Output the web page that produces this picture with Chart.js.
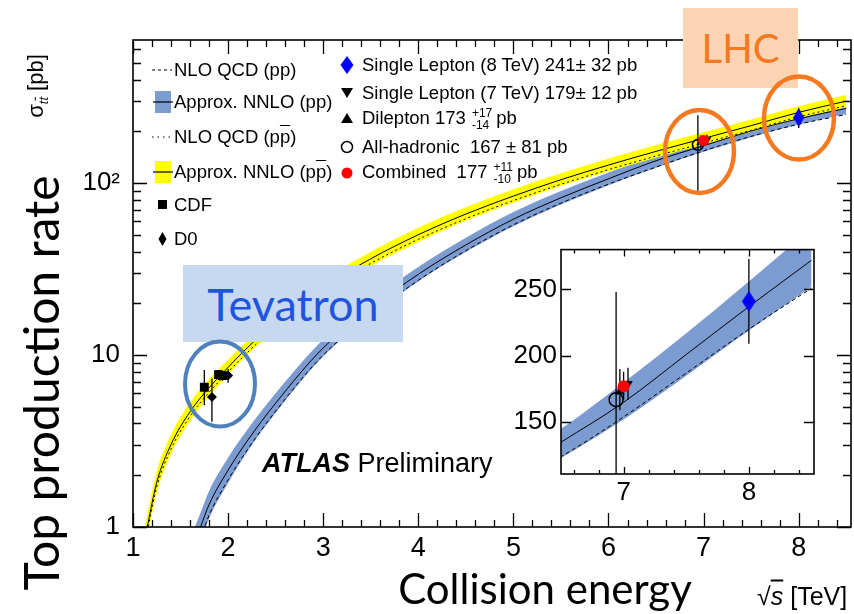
<!DOCTYPE html>
<html>
<head>
<meta charset="utf-8">
<script src="https://cdn.jsdelivr.net/npm/chart.js@4.4.1/dist/chart.umd.min.js"></script>
<style>
html, body { margin: 0; padding: 0; background: #fff; }
#stage { position: relative; width: 854px; height: 614px; overflow: hidden; background: #fff;
         font-family: "Liberation Sans", Arial, Helvetica, sans-serif; color: #000; }
canvas { position: absolute; }
#main { left: 0; top: 0; }
#inset { left: 490px; top: 230px; }
.abs { position: absolute; white-space: nowrap; }
.mid { transform: translateY(-50%); }
.ov { text-decoration: overline; }
.leg { font-size: 18.5px; line-height: 22px; }
.frac { display: inline-block; vertical-align: middle; font-size: 12px; line-height: 12px; text-align: left; margin: 0 4px 0 6px; }
.ytitle { font-family: Lato, "Open Sans", sans-serif; font-size: 48px; left: 40px; top: 383px;
          transform: translate(-50%, -50%) rotate(-90deg); }
.yunit { font-size: 22px; left: 37px; top: 86px; transform: translate(-50%, -50%) rotate(-90deg); }
.yunit sub { font-size: 13px; font-style: italic; }
.xtitle { font-family: Lato, "Open Sans", sans-serif; font-size: 42px; left: 545px; top: 588px; transform: translate(-50%, -50%); }
.xunit { font-size: 25px; left: 757px; top: 596px; transform: translateY(-50%); }
.atlas { font-size: 27px; left: 262px; top: 463px; transform: translateY(-50%); }
.box { position: absolute; display: flex; align-items: center; justify-content: center;
       font-family: Lato, "Open Sans", sans-serif; }
#tev { left: 183px; top: 265px; width: 220px; height: 77px; background: #c6d9f1; color: #1f55dd; font-size: 45px; }
#lhc { left: 683px; top: 8px; width: 115px; height: 80px; background: #fbd4b4; color: #f47920; font-size: 40px; }
svg { position: absolute; left: 0; top: 0; }
</style>
</head>
<body>
<div id="stage">
  <canvas id="main" width="858" height="614"></canvas>
  <canvas id="inset" width="340" height="290"></canvas>

  <svg width="854" height="614" viewBox="0 0 854 614">
    <!-- legend symbols, left column -->
    <line x1="152" y1="70" x2="172" y2="70" stroke="#000" stroke-width="1.2" stroke-dasharray="3,3"/>
    <rect x="155" y="91" width="16" height="22" fill="#7b9bd1"/>
    <line x1="153" y1="102" x2="173" y2="102" stroke="#000" stroke-width="1.2"/>
    <line x1="152" y1="137" x2="172" y2="137" stroke="#000" stroke-width="1.2" stroke-dasharray="1.5,4"/>
    <rect x="155" y="161" width="16" height="22" fill="#ffff00"/>
    <line x1="153" y1="172" x2="173" y2="172" stroke="#000" stroke-width="1.2"/>
    <rect x="158" y="200" width="9" height="9" fill="#000"/>
    <polygon points="162.5,232 166.5,239 162.5,246 158.5,239" fill="#000"/>
    <!-- legend symbols, right column -->
    <polygon points="347,56 353.5,65 347,74 340.5,65" fill="#0000ff"/>
    <polygon points="341,88 353,88 347,98" fill="#000"/>
    <polygon points="341,123 353,123 347,113" fill="#000"/>
    <circle cx="347" cy="147" r="5.5" fill="none" stroke="#000" stroke-width="1.5"/>
    <circle cx="347" cy="173" r="5.5" fill="#ff0000"/>
  </svg>

  <div class="abs leg mid" style="left:174px; top:70px;">NLO QCD (pp)</div>
  <div class="abs leg mid" style="left:174px; top:102px;">Approx. NNLO (pp)</div>
  <div class="abs leg mid" style="left:174px; top:137px;">NLO QCD (p<span class="ov">p</span>)</div>
  <div class="abs leg mid" style="left:174px; top:172px;">Approx. NNLO (p<span class="ov">p</span>)</div>
  <div class="abs leg mid" style="left:174px; top:205px;">CDF</div>
  <div class="abs leg mid" style="left:174px; top:239px;">D0</div>

  <div class="abs leg mid" style="left:362px; top:65px;">Single Lepton (8 TeV) 241&plusmn; 32 pb</div>
  <div class="abs leg mid" style="left:362px; top:93px;">Single Lepton (7 TeV) 179&plusmn; 12 pb</div>
  <div class="abs leg mid" style="left:362px; top:119px;">Dilepton 173<span class="frac">+17<br>-14</span>pb</div>
  <div class="abs leg mid" style="left:362px; top:147px;">All-hadronic&nbsp; 167 &plusmn; 81 pb</div>
  <div class="abs leg mid" style="left:362px; top:173px;">Combined&nbsp; 177<span class="frac">+11<br>-10</span>pb</div>

  <div class="abs atlas"><b><i>ATLAS</i></b> Preliminary</div>

  <div class="abs ytitle">Top production rate</div>
  <div class="abs yunit">&sigma;<sub>t<span class="ov">t</span></sub> [pb]</div>
  <div class="abs xtitle">Collision energy</div>
  <div class="abs xunit">&radic;<span class="ov"><i>s</i></span> [TeV]</div>

  <div class="box" id="tev">Tevatron</div>
  <div class="box" id="lhc">LHC</div>

  <svg width="854" height="614" viewBox="0 0 854 614">
    <ellipse cx="220" cy="384" rx="35" ry="42.5" fill="none" stroke="#4f81bd" stroke-width="4"/>
    <ellipse cx="699.5" cy="151.5" rx="34.5" ry="41.5" fill="none" stroke="#f47920" stroke-width="4.5"/>
    <ellipse cx="799" cy="118" rx="35" ry="41.5" fill="none" stroke="#f47920" stroke-width="4.5"/>
  </svg>
</div>

<script>
// Approximate NNLO / NLO ttbar cross sections (pb) versus collision energy (TeV)
const ppbarEnergy   = [1.1, 1.15, 1.25, 1.4, 1.6, 1.8, 1.96, 2.2, 2.5, 3.0, 3.5, 4.0, 4.5, 5.0, 5.5, 6.0, 6.5, 7.0, 7.5, 8.0, 8.5];
const ppbarNNLO     = [0.72, 1.0, 1.82, 3.02, 4.68, 6.46, 8.04, 11.0, 15.5, 24.8, 36.3, 50.1, 66.1, 84.1, 104.7, 127.4, 153, 182, 216, 258, 300];
const ppbarNNLOHigh = [0.84, 1.17, 2.11, 3.44, 5.29, 7.24, 8.92, 12.1, 17.05, 27.3, 39.9, 55.1, 72.4, 92.1, 114.1, 138.9, 166.8, 197.5, 234.4, 280, 325.5];
const ppbarNNLOLow  = [0.615, 0.855, 1.57, 2.65, 4.14, 5.77, 7.24, 10.0, 14.1, 22.5, 33.0, 45.5, 60.4, 76.8, 96.1, 116.9, 140.4, 167.7, 199, 237.8, 276.5];
const ppbarNLO      = [0.68, 0.94, 1.71, 2.84, 4.4, 6.07, 7.56, 10.3, 14.6, 23.3, 34.1, 47.1, 62.1, 79.1, 98.4, 119.8, 143.8, 171, 203, 243, 282];

const ppEnergy   = [1.6, 1.71, 1.8, 2.0, 2.2, 2.5, 3.0, 3.5, 4.0, 4.5, 5.0, 5.5, 6.0, 6.5, 7.0, 7.5, 8.0, 8.5];
const ppNNLO     = [0.70, 1.0, 1.35, 2.14, 3.16, 5.25, 11.0, 18.6, 29.5, 43.7, 61.7, 82.2, 106, 135, 165, 201, 237, 272];
const ppNNLOHigh = [0.85, 1.21, 1.62, 2.53, 3.67, 5.99, 12.3, 20.6, 32.5, 48.1, 67.9, 90.0, 115.5, 145, 180, 217, 256, 296];
const ppNNLOLow  = [0.57, 0.82, 1.12, 1.8, 2.72, 4.6, 9.8, 16.8, 26.8, 39.7, 56.1, 75.0, 97.2, 123, 152, 185, 219, 252];
const ppNLO      = [0.6, 0.86, 1.17, 1.88, 2.8, 4.72, 10.0, 17.1, 27.2, 40.5, 57.2, 76.5, 98.6, 124, 154, 187, 220, 251];

// Tevatron measurements
const cdfEnergy = [1.75, 1.90, 1.94];
const cdfXsec   = [6.5, 7.7, 7.6];
const cdfPlus   = [1.7, 0.5, 0.5];
const cdfMinus  = [1.4, 0.5, 0.5];
const d0Energy  = [1.83, 2.0];
const d0Xsec    = [5.7, 7.6];
const d0Plus    = [1.6, 0.7];
const d0Minus   = [1.6, 0.7];

// ATLAS measurements
const single8Energy = [8.0],   single8Xsec = [241], single8Plus = [32], single8Minus = [32];
const single7Energy = [7.035], single7Xsec = [179], single7Plus = [12], single7Minus = [12];
const dilepEnergy   = [6.97],  dilepXsec   = [173], dilepPlus   = [17], dilepMinus   = [14];
const hadEnergy     = [6.94],  hadXsec     = [167], hadPlus     = [81], hadMinus     = [81];
const combEnergy    = [7.0],   combXsec    = [177], combPlus    = [11], combMinus    = [10];

// Axis tick values
const mainXTicks  = [1, 2, 3, 4, 5, 6, 7, 8];
const mainYTicks  = [1, 10, 100];
const insetXTicks = [7, 8];
const insetYTicks = [150, 200, 250];

const FONT = '"Liberation Sans", Arial, Helvetica, sans-serif';
const BLUE = '#7b9bd1';
const YELLOW = '#ffff00';
Chart.defaults.font.family = FONT;
Chart.defaults.color = '#000';

const pts = (xs, ys) => xs.map((x, i) => ({ x, y: ys[i] }));

function curve(xs, ys, extra) {
  return Object.assign({
    type: 'line', data: pts(xs, ys), borderColor: '#000', borderWidth: 1,
    pointRadius: 0, fill: false, cubicInterpolationMode: 'monotone'
  }, extra);
}
function bandEdge(xs, ys, extra) {
  return Object.assign({
    type: 'line', data: pts(xs, ys), borderColor: 'rgba(0,0,0,0)', borderWidth: 0,
    pointRadius: 0, cubicInterpolationMode: 'monotone', fill: false
  }, extra);
}
function marker(xs, ys, plus, minus, style) {
  return Object.assign({
    type: 'scatter', data: pts(xs, ys), errPlus: plus, errMinus: minus,
    borderColor: '#000', backgroundColor: '#000', borderWidth: 0
  }, style);
}
function diamondSprite(w, h, color) {
  const c = document.createElement('canvas');
  c.width = w; c.height = h;
  const g = c.getContext('2d');
  g.fillStyle = color;
  g.beginPath();
  g.moveTo(w / 2, 0); g.lineTo(w, h / 2); g.lineTo(w / 2, h); g.lineTo(0, h / 2);
  g.closePath(); g.fill();
  return c;
}

// Vertical error bars, drawn right before each measurement dataset
const errorBars = {
  id: 'errorBars',
  beforeDatasetDraw(chart, args) {
    const ds = chart.data.datasets[args.index];
    if (!ds.errPlus) return;
    const { ctx, chartArea: a, scales: { x, y } } = chart;
    ctx.save();
    ctx.beginPath();
    ctx.rect(a.left, a.top, a.right - a.left, a.bottom - a.top);
    ctx.clip();
    ctx.strokeStyle = '#000';
    ctx.lineWidth = 1.3;
    ctx.beginPath();
    ds.data.forEach((p, i) => {
      const px = x.getPixelForValue(p.x);
      ctx.moveTo(px, y.getPixelForValue(p.y + ds.errPlus[i]));
      ctx.lineTo(px, y.getPixelForValue(p.y - ds.errMinus[i]));
    });
    ctx.stroke();
    ctx.restore();
  }
};

// Closed frame with inward ticks on all four sides
const frameTicks = {
  id: 'frameTicks',
  afterDraw(chart, args, o) {
    const { ctx, chartArea: a, scales: { x, y } } = chart;
    ctx.save();
    ctx.strokeStyle = '#000';
    ctx.lineWidth = o.lineWidth;
    ctx.beginPath();
    const vtick = (v, len) => {
      const px = Math.round(x.getPixelForValue(v)) + 0.5;
      ctx.moveTo(px, a.bottom); ctx.lineTo(px, a.bottom - len);
      ctx.moveTo(px, a.top); ctx.lineTo(px, a.top + len);
    };
    const htick = (v, len) => {
      const py = Math.round(y.getPixelForValue(v)) + 0.5;
      ctx.moveTo(a.left, py); ctx.lineTo(a.left + len, py);
      ctx.moveTo(a.right, py); ctx.lineTo(a.right - len, py);
    };
    o.xMajor.forEach(v => vtick(v, o.xMajorLen));
    o.xMinor.forEach(v => vtick(v, o.xMinorLen));
    o.yMajor.forEach(v => htick(v, o.yMajorLen));
    o.yMinor.forEach(v => htick(v, o.yMinorLen));
    ctx.stroke();
    ctx.lineWidth = o.frameWidth;
    ctx.strokeRect(a.left, a.top, a.right - a.left, a.bottom - a.top);
    ctx.restore();
  }
};

function minorLinear(from, to, step, skip) {
  const out = [];
  for (let v = from; v <= to + 1e-9; v += step) {
    const r = Math.round(v * 10) / 10;
    if (!skip.includes(r)) out.push(r);
  }
  return out;
}
function minorLog(maxVal) {
  const out = [];
  for (const d of [1, 10, 100]) for (let m = 2; m <= 9; m++) if (m * d <= maxVal) out.push(m * d);
  return out;
}

const mainDatasets = [
  // measurements (drawn on top)
  marker(combEnergy, combXsec, combPlus, combMinus, { pointStyle: 'circle', pointRadius: 5.5, backgroundColor: '#ff0000', borderColor: '#ff0000', order: 0 }),
  marker(single8Energy, single8Xsec, single8Plus, single8Minus, { pointStyle: diamondSprite(11, 19, '#0000ff'), pointRadius: 6, order: 0 }),
  marker(single7Energy, single7Xsec, single7Plus, single7Minus, { pointStyle: 'triangle', rotation: 180, pointRadius: 5, order: 1 }),
  marker(dilepEnergy, dilepXsec, dilepPlus, dilepMinus, { pointStyle: 'triangle', pointRadius: 5, order: 2 }),
  marker(hadEnergy, hadXsec, hadPlus, hadMinus, { pointStyle: 'circle', pointRadius: 5.5, backgroundColor: 'rgba(0,0,0,0)', borderWidth: 1.5, order: 3 }),
  marker(cdfEnergy, cdfXsec, cdfPlus, cdfMinus, { pointStyle: 'rect', pointRadius: 6.3, order: 1 }),
  marker(d0Energy, d0Xsec, d0Plus, d0Minus, { pointStyle: 'rectRot', pointRadius: 5, order: 1 }),
  // central values and NLO curves
  curve(ppbarEnergy, ppbarNNLO, { order: 10 }),
  curve(ppbarEnergy, ppbarNLO, { borderDash: [2, 3], order: 10 }),
  curve(ppEnergy, ppNNLO, { order: 10 }),
  curve(ppEnergy, ppNLO, { borderDash: [4, 3], order: 10 }),
  // uncertainty bands
  bandEdge(ppbarEnergy, ppbarNNLOHigh, { fill: '+1', backgroundColor: YELLOW, order: 20 }),
  bandEdge(ppbarEnergy, ppbarNNLOLow, { order: 20 }),
  bandEdge(ppEnergy, ppNNLOHigh, { fill: '+1', backgroundColor: BLUE, order: 21 }),
  bandEdge(ppEnergy, ppNNLOLow, { order: 21 })
];

new Chart(document.getElementById('main'), {
  data: { datasets: mainDatasets },
  plugins: [errorBars, frameTicks],
  options: {
    responsive: false, animation: false, events: [],
    layout: { padding: { left: 73, top: 40, right: 2, bottom: 47 } },
    plugins: {
      legend: { display: false }, tooltip: { enabled: false },
      frameTicks: {
        lineWidth: 1.3, frameWidth: 1.6,
        xMajor: mainXTicks, xMinor: minorLinear(1.2, 8.4, 0.2, mainXTicks), xMajorLen: 14, xMinorLen: 7,
        yMajor: mainYTicks, yMinor: minorLog(680), yMajorLen: 14, yMinorLen: 8
      }
    },
    scales: {
      x: {
        type: 'linear', min: 1, max: 8.55,
        grid: { display: false, drawTicks: false }, border: { display: false },
        afterBuildTicks: s => { s.ticks = mainXTicks.map(v => ({ value: v })); },
        afterFit: s => { s.height = 40; },
        ticks: { font: { size: 27 }, padding: 5, maxRotation: 0, autoSkip: false, color: '#000' }
      },
      y: {
        type: 'logarithmic', min: 1, max: 680,
        grid: { display: false, drawTicks: false }, border: { display: false },
        afterBuildTicks: s => { s.ticks = mainYTicks.map(v => ({ value: v })); },
        afterFit: s => { s.width = 60; },
        ticks: {
          font: { size: 26 }, padding: 13, autoSkip: false, color: '#000',
          callback: v => (v === 100 ? '10\u00B2' : String(v))
        }
      }
    }
  }
});

const insetDatasets = [
  marker(combEnergy, combXsec, combPlus, combMinus, { pointStyle: 'circle', pointRadius: 6, backgroundColor: '#ff0000', borderColor: '#ff0000', order: 0 }),
  marker(single8Energy, single8Xsec, single8Plus, single8Minus, { pointStyle: diamondSprite(14, 21, '#0000ff'), pointRadius: 6, order: 0 }),
  marker(single7Energy, single7Xsec, single7Plus, single7Minus, { pointStyle: 'triangle', rotation: 180, pointRadius: 5.5, order: 1 }),
  marker(dilepEnergy, dilepXsec, dilepPlus, dilepMinus, { pointStyle: 'triangle', pointRadius: 5.5, order: 2 }),
  marker(hadEnergy, hadXsec, hadPlus, hadMinus, { pointStyle: 'circle', pointRadius: 7, backgroundColor: 'rgba(0,0,0,0)', borderWidth: 1.5, order: 3 }),
  curve(ppEnergy, ppNNLO, { order: 10 }),
  curve(ppEnergy, ppNLO, { borderDash: [4, 3], order: 10 }),
  bandEdge(ppEnergy, ppNNLOHigh, { fill: '+1', backgroundColor: BLUE, order: 21 }),
  bandEdge(ppEnergy, ppNNLOLow, { order: 21 })
];

new Chart(document.getElementById('inset'), {
  data: { datasets: insetDatasets },
  plugins: [errorBars, frameTicks],
  options: {
    responsive: false, animation: false, events: [],
    layout: { padding: { left: 11, top: 14, right: 16, bottom: 16 } },
    plugins: {
      legend: { display: false }, tooltip: { enabled: false },
      frameTicks: {
        lineWidth: 1.3, frameWidth: 1.6,
        xMajor: insetXTicks, xMinor: minorLinear(6.6, 8.4, 0.2, insetXTicks), xMajorLen: 7, xMinorLen: 4,
        yMajor: insetYTicks, yMinor: [], yMajorLen: 10, yMinorLen: 0
      }
    },
    scales: {
      x: {
        type: 'linear', min: 6.5, max: 8.52,
        grid: { display: false, drawTicks: false }, border: { display: false },
        afterBuildTicks: s => { s.ticks = insetXTicks.map(v => ({ value: v })); },
        afterFit: s => { s.height = 30; },
        ticks: { font: { size: 26 }, padding: 3, maxRotation: 0, autoSkip: false, color: '#000' }
      },
      y: {
        type: 'linear', min: 111, max: 280,
        grid: { display: false, drawTicks: false }, border: { display: false },
        afterBuildTicks: s => { s.ticks = insetYTicks.map(v => ({ value: v })); },
        afterFit: s => { s.width = 60; },
        ticks: { font: { size: 26 }, padding: 4, autoSkip: false, color: '#000' }
      }
    }
  }
});
</script>
</body>
</html>
